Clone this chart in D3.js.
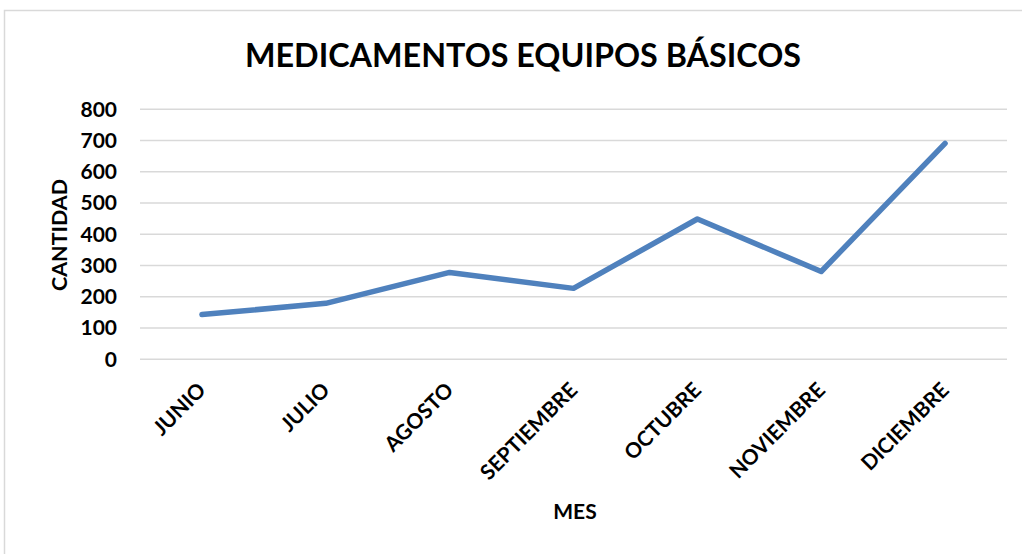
<!DOCTYPE html>
<html>
<head>
<meta charset="utf-8">
<script src="https://cdn.jsdelivr.net/npm/d3@7"></script>
<style>
  body { margin: 0; background: #fff; }
  svg text { font-family: Lato, "Open Sans", sans-serif; font-weight: bold; fill: #000; }
</style>
</head>
<body>
<svg width="1022" height="554"></svg>
<script>
// data
const months = ["JUNIO", "JULIO", "AGOSTO", "SEPTIEMBRE", "OCTUBRE", "NOVIEMBRE", "DICIEMBRE"];
const cantidad = [143, 179, 278, 227, 449, 281, 691];
const yTicks = [0, 100, 200, 300, 400, 500, 600, 700, 800];

const svg = d3.select("svg");

// outer chart frame (right and bottom edge are cut off in the original)
svg.append("rect")
    .attr("x", 4.5).attr("y", 10.5)
    .attr("width", 1100).attr("height", 700)
    .attr("fill", "none")
    .attr("stroke", "#d9d9d9")
    .attr("stroke-width", 1.5);

const plotLeft = 140, plotRight = 1007, plotTop = 109.3, plotBottom = 359.3;

let xScale = d3.scaleBand()
    .domain(months)
    .range([plotLeft, plotRight]);

let yScale = d3.scaleLinear()
    .domain([0, 800])
    .range([plotBottom, plotTop]);

// gridlines
svg.append("g")
    .selectAll("line")
    .data(yTicks)
    .enter()
    .append("line")
    .attr("x1", plotLeft).attr("x2", plotRight)
    .attr("y1", d => yScale(d)).attr("y2", d => yScale(d))
    .attr("stroke", "#d9d9d9")
    .attr("stroke-width", 1.5);

// y axis labels
const yAxis = svg.append("g")
    .attr("transform", `translate(${plotLeft - 23}, 0)`)
    .call(d3.axisLeft(yScale).tickValues(yTicks).tickSize(0).tickPadding(0));
yAxis.select(".domain").remove();
yAxis.selectAll("text")
    .attr("font-size", 21)
    .attr("font-family", "Lato")
    .attr("font-weight", "bold")
    .attr("fill", "#000");

// x axis labels, rotated
const xAxis = svg.append("g")
    .attr("transform", `translate(0, ${plotBottom})`)
    .call(d3.axisBottom(xScale).tickSize(0).tickPadding(0));
xAxis.select(".domain").remove();
xAxis.selectAll("text")
    .attr("font-size", 21)
    .attr("font-family", "Lato")
    .attr("font-weight", "bold")
    .attr("fill", "#000")
    .attr("text-anchor", "end")
    .attr("y", 0)
    .attr("dy", "0.35em")
    .attr("transform", "translate(0, 27) rotate(-45)");

// the line
const line = d3.line()
    .x((d, i) => xScale(months[i]) + xScale.bandwidth() / 2)
    .y(d => yScale(d));

svg.append("path")
    .datum(cantidad)
    .attr("d", line)
    .attr("fill", "none")
    .attr("stroke", "#4f81bd")
    .attr("stroke-width", 5.5)
    .attr("stroke-linecap", "round")
    .attr("stroke-linejoin", "round");

// titles
svg.append("text")
    .attr("x", 523)
    .attr("y", 67)
    .attr("text-anchor", "middle")
    .attr("font-size", 32.3)
    .text("MEDICAMENTOS EQUIPOS BÁSICOS");

svg.append("text")
    .attr("x", 575)
    .attr("y", 519)
    .attr("text-anchor", "middle")
    .attr("font-size", 21)
    .text("MES");

svg.append("text")
    .attr("transform", "translate(67, 235) rotate(-90)")
    .attr("text-anchor", "middle")
    .attr("font-size", 21.5)
    .text("CANTIDAD");
</script>
</body>
</html>
